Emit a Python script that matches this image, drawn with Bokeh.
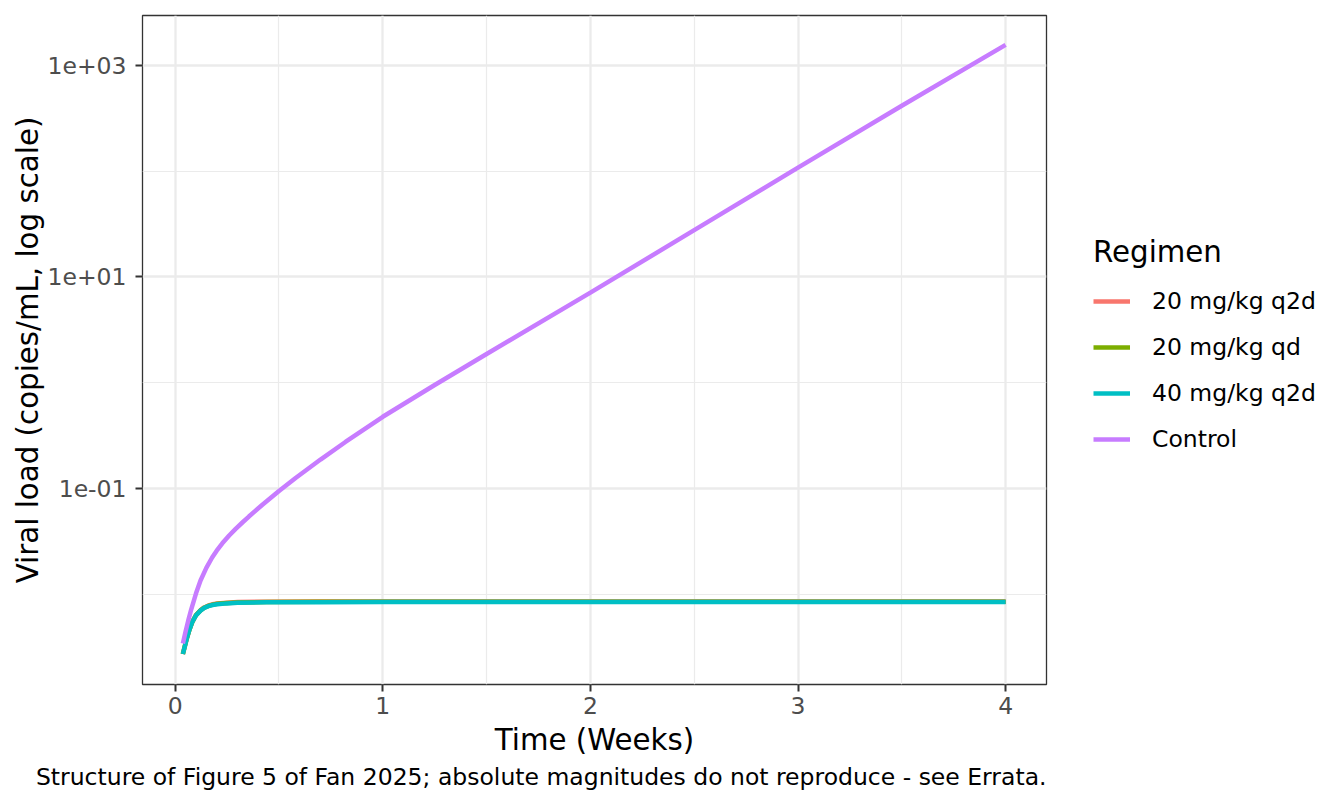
from bokeh.plotting import figure
from bokeh.models import (Range1d, FixedTicker, CustomJSTickFormatter, Legend,
                          LegendItem, Title)
from bokeh.layouts import row
from bokeh.embed import file_html
from bokeh.resources import INLINE

# ---------------- data ----------------
regimens = ["20 mg/kg q2d", "20 mg/kg qd", "40 mg/kg q2d", "Control"]
colors = ["#F8766D", "#7CAE00", "#00BFC4", "#C77CFF"]

treat_weeks = [0.037, 0.046, 0.055, 0.068, 0.082, 0.10, 0.122, 0.14, 0.16, 0.18, 0.203,
               0.25, 0.30, 0.44, 0.70, 1.0, 2.0, 3.0, 4.0]
load_20_q2d = [0.002754, 0.003240, 0.003810, 0.004640, 0.005520, 0.006420, 0.007140,
               0.007580, 0.007900, 0.008110, 0.008250, 0.008410, 0.008510, 0.008600,
               0.008630, 0.008640, 0.008640, 0.008640, 0.008640]
load_20_qd = [0.002754, 0.003238, 0.003806, 0.004632, 0.005510, 0.006400, 0.007110,
              0.007540, 0.007850, 0.008060, 0.008200, 0.008350, 0.008450, 0.008540,
              0.008580, 0.008590, 0.008590, 0.008590, 0.008590]
load_40_q2d = [0.002754, 0.003236, 0.003802, 0.004624, 0.005495, 0.006383, 0.007079,
               0.007499, 0.007798, 0.007998, 0.008128, 0.008279, 0.008375, 0.008472,
               0.008505, 0.008511, 0.008511, 0.008511, 0.008511]

control_weeks = [0.037, 0.05, 0.063, 0.077, 0.10, 0.122, 0.15, 0.178, 0.20, 0.227, 0.26,
                 0.29, 0.325, 0.355, 0.42, 0.50, 0.58, 0.70, 0.82, 1.0, 1.25, 1.5, 2.0,
                 2.5, 3.0, 3.5, 4.0]
load_control = [0.003467, 0.004498, 0.005715, 0.007244, 0.010257, 0.013614, 0.017906,
                0.022439, 0.026062, 0.030549, 0.036224, 0.041591, 0.048306, 0.054702,
                0.070632, 0.09528, 0.12647, 0.18880, 0.27669, 0.47863, 0.95499, 1.8734,
                7.1121, 27.669, 107.65, 414.0, 1555.9]

x_ticks = [0, 1, 2, 3, 4]
x_minor = [0.5, 1.5, 2.5, 3.5]
y_ticks = [0.1, 10, 1000]
y_minor = [0.01, 1, 100]

x_label = "Time (Weeks)"
y_label = "Viral load (copies/mL, log scale)"
legend_title = "Regimen"
caption = "Structure of Figure 5 of Fan 2025; absolute magnitudes do not reproduce - see Errata."

FONT = "DejaVu Sans"
SMALL = "23.5px"
BIG = "29.3px"
H = 798

p = figure(width=1050, height=H, output_backend="svg", toolbar_location=None,
           y_axis_type="log",
           x_range=Range1d(-0.1575, 4.197),
           y_range=Range1d(10 ** -2.848, 10 ** 3.469),
           min_border_left=142, min_border_right=4,
           min_border_top=15, min_border_bottom=114)

p.background_fill_color = "white"
p.border_fill_color = "white"
p.outline_line_color = "#333333"
p.outline_line_width = 1.3

# grids
for g in (p.xgrid, p.ygrid):
    g.grid_line_color = "#EBEBEB"
    g.grid_line_width = 2.3
    g.minor_grid_line_color = "#EBEBEB"
    g.minor_grid_line_width = 1.2

# axes
p.xaxis.ticker = FixedTicker(ticks=x_ticks, minor_ticks=x_minor)
p.yaxis.ticker = FixedTicker(ticks=y_ticks, minor_ticks=y_minor)
p.yaxis.formatter = CustomJSTickFormatter(
    code="var s = tick.toExponential(0); return s.replace(/e([+-])(\\d)$/, 'e$10$2');")

for ax in (p.xaxis, p.yaxis):
    ax.axis_line_color = None
    ax.major_tick_in = 0
    ax.major_tick_out = 7
    ax.minor_tick_in = 0
    ax.minor_tick_out = 0
    ax.major_tick_line_color = "#333333"
    ax.major_tick_line_width = 2
    ax.major_label_text_color = "#4D4D4D"
    ax.major_label_text_font = FONT
    ax.major_label_text_font_size = SMALL
    ax.axis_label_text_font = FONT
    ax.axis_label_text_font_size = BIG
    ax.axis_label_text_font_style = "normal"
    ax.axis_label_text_color = "black"

p.xaxis.axis_label = x_label
p.yaxis.axis_label = y_label
p.xaxis.major_label_standoff = 5
p.xaxis.axis_label_standoff = 6
p.yaxis.major_label_standoff = 9
p.yaxis.axis_label_standoff = -1

# lines
series = [(treat_weeks, load_20_q2d), (treat_weeks, load_20_qd),
          (treat_weeks, load_40_q2d), (control_weeks, load_control)]
for (xs, ys), col in zip(series, colors):
    p.line(xs, ys, line_color=col, line_width=4.5)

cap = Title(text=caption, align="right", text_font=FONT, text_font_size=SMALL,
            text_font_style="normal", text_color="black", standoff=3)
p.add_layout(cap, "below")

# ---------------- legend panel (to the right of the plot panel) ----------------
# same series, drawn in a view range where they are out of sight; only the legend shows
lg = figure(width=286, height=H, output_backend="svg", toolbar_location=None,
            x_axis_location=None, y_axis_location=None,
            x_range=Range1d(10, 11), y_range=Range1d(10, 11),
            min_border=0, min_border_left=0, min_border_right=0,
            min_border_top=0, min_border_bottom=0)
lg.outline_line_color = None
lg.xgrid.visible = False
lg.ygrid.visible = False
lg.background_fill_color = "white"
lg.border_fill_color = "white"

items = []
for (xs, ys), name, col in zip(series, regimens, colors):
    r = lg.line(xs, ys, line_color=col, line_width=4.5)
    items.append(LegendItem(label=name, renderers=[r]))

legend = Legend(items=items, location=(43, 222),
                title=legend_title, title_text_font=FONT, title_text_font_size=BIG,
                title_text_font_style="normal", title_text_color="black",
                title_standoff=9,
                label_text_font=FONT, label_text_font_size=SMALL, label_text_color="black",
                glyph_width=37, glyph_height=46, label_height=46, label_standoff=22,
                spacing=0, padding=0, margin=0,
                border_line_color=None, background_fill_alpha=0)
lg.add_layout(legend, "center")

layout = row(p, lg, spacing=0)
open("out.html", "w").write(file_html(layout, INLINE))
